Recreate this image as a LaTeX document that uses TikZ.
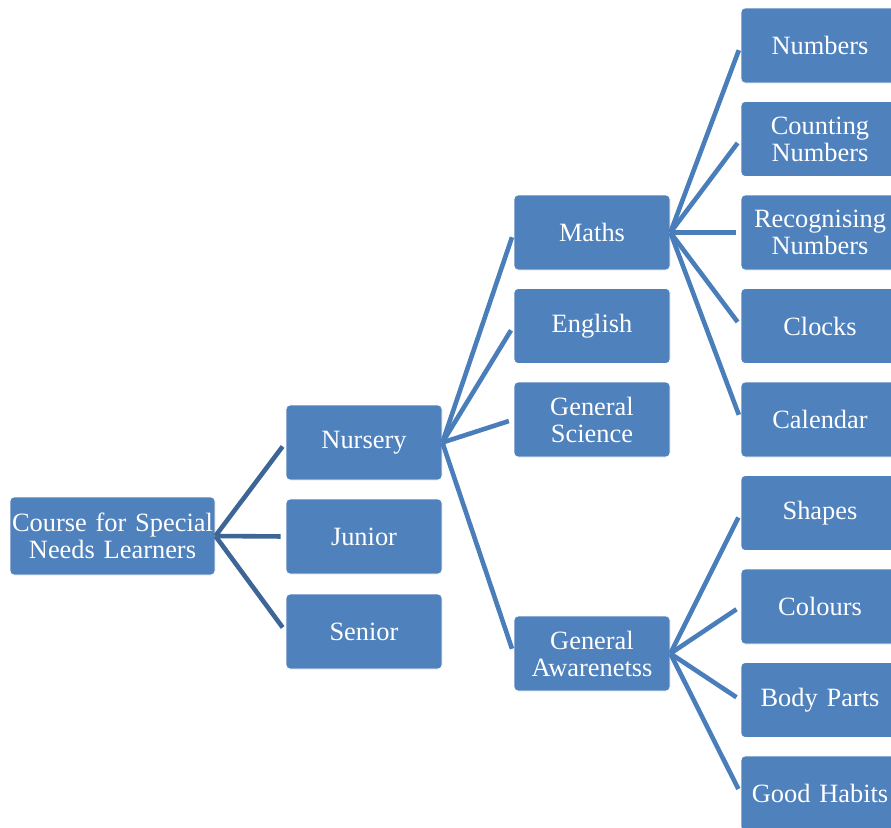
\documentclass[tikz,border=0pt]{standalone}
\usepackage{fontspec}
\setmainfont{Liberation Serif}
\definecolor{boxblue}{HTML}{4F81BD}
\definecolor{linkblue}{HTML}{4A7EBB}
\definecolor{rootlink}{HTML}{3D6697}
\begin{document}
\begin{tikzpicture}[x=1pt,y=-1pt,
  box/.style={draw=white, line width=0.8pt, fill=boxblue, rounded corners=4pt,
    text=white, inner sep=0pt, align=center,
    font=\fontsize{26.4}{27}\selectfont},
  rootbox/.style={box, minimum width=205pt, minimum height=78pt, text width=201pt},
  midbox/.style={box, minimum width=156pt, minimum height=75pt, text width=152pt},
  leafbox/.style={box, minimum width=158pt, minimum height=75pt, text width=154pt},
  link/.style={draw=linkblue, line width=4.6pt, shorten >=5pt},
  toplink/.style={link, draw=rootlink}]
\clip (0,0) rectangle (891,827);
\fill[white] (0,0) rectangle (891,827);

% root and first level
\node[rootbox] (root) at (112.5,536) {Course for Special\\Needs Learners};
\node[midbox] (nursery) at (364,442.5) {Nursery};
\node[midbox] (junior) at (364,536.5) {Junior};
\node[midbox] (senior) at (364,631.5) {Senior};

% subjects
\node[midbox] (maths) at (592,232.5) {Maths};
\node[midbox] (english) at (592,326) {English};
\node[midbox] (science) at (592,419.5) {General\\Science};
\node[midbox] (aware) at (592,653.5) {General\\Awarenetss};

% topics
\node[leafbox] (numbers) at (820,45.5) {Numbers};
\node[leafbox] (counting) at (820,139) {Counting\\Numbers};
\node[leafbox] (recog) at (820,232.5) {Recognising\\Numbers};
\node[leafbox] (clocks) at (820,326) {Clocks};
\node[leafbox] (calendar) at (820,419.5) {Calendar};
\node[leafbox] (shapes) at (820,513) {Shapes};
\node[leafbox] (colours) at (820,606.5) {Colours};
\node[leafbox] (body) at (820,700) {Body Parts};
\node[leafbox] (habits) at (820,793.5) {Good Habits};

% connectors
\foreach \c in {nursery,junior,senior}
  \draw[toplink] (root.east) -- (\c.west);
\foreach \c in {maths,english,science,aware}
  \draw[link] (nursery.east) -- (\c.west);
\foreach \c in {numbers,counting,recog,clocks,calendar}
  \draw[link] (maths.east) -- (\c.west);
\foreach \c in {shapes,colours,body,habits}
  \draw[link] (aware.east) -- (\c.west);
\end{tikzpicture}
\end{document}
